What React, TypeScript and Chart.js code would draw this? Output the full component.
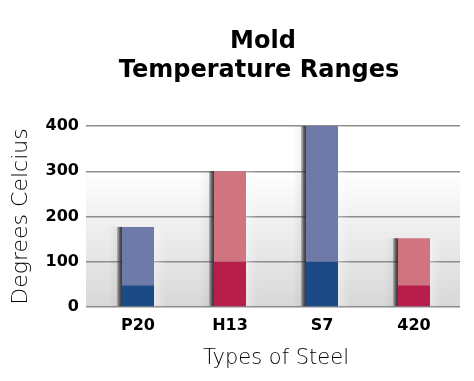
import React, { useEffect, useRef } from "react";
import { Chart, registerables } from "chart.js";

Chart.register(...registerables);

const steelTypes = ["P20", "H13", "S7", "420"];
const lowerRangeTop = [48, 100, 100, 48];
const upperRangeTop = [177, 300, 400, 152];
const lowerColors = ["#1b4a86", "#b81e4c", "#1b4a86", "#b81e4c"];
const upperColors = ["#6f7aa9", "#d0757f", "#6f7aa9", "#d0757f"];
const titleLines = ["Mold", "Temperature Ranges"];
const yAxisTitle = "Degrees Celcius";
const xAxisTitle = "Types of Steel";

const backgroundPlugin = {
  id: "plotBackground",
  beforeDraw(chart: any) {
    const { ctx, chartArea } = chart;
    if (!chartArea) return;
    const { left, right, top, bottom } = chartArea;
    ctx.save();
    const g = ctx.createLinearGradient(0, top, 0, bottom);
    g.addColorStop(0, "#ffffff");
    g.addColorStop(0.25, "#ffffff");
    g.addColorStop(0.5, "#f1f1f1");
    g.addColorStop(0.75, "#e5e5e5");
    g.addColorStop(1, "#d8d8d8");
    ctx.fillStyle = g;
    ctx.fillRect(left - 6, top, right - left + 6, bottom - top);
    ctx.restore();
  },
};

const barShadowPlugin = {
  id: "barShadow",
  beforeDatasetsDraw(chart: any) {
    const { ctx } = chart;
    const lower = chart.getDatasetMeta(0).data;
    const upper = chart.getDatasetMeta(1).data;
    ctx.save();
    upper.forEach((bar: any, i: number) => {
      const base = lower[i].base;
      const topY = bar.y;
      const half = bar.width / 2;
      const l = bar.x - half;
      const r = bar.x + half;
      const soft = ctx.createLinearGradient(l - 14, 0, l, 0);
      soft.addColorStop(0, "rgba(0,0,0,0)");
      soft.addColorStop(1, "rgba(0,0,0,0.08)");
      ctx.fillStyle = soft;
      ctx.fillRect(l - 14, topY, 14, base - topY);
      const dark = ctx.createLinearGradient(l - 5, 0, l, 0);
      dark.addColorStop(0, "rgba(60,60,60,0.25)");
      dark.addColorStop(0.6, "rgba(40,40,40,0.75)");
      dark.addColorStop(1, "rgba(30,30,30,0.85)");
      ctx.fillStyle = dark;
      ctx.fillRect(l - 5, topY, 5, base - topY);
      const lite = ctx.createLinearGradient(r, 0, r + 12, 0);
      lite.addColorStop(0, "rgba(255,255,255,0.35)");
      lite.addColorStop(1, "rgba(255,255,255,0)");
      ctx.fillStyle = lite;
      ctx.fillRect(r, topY, 12, base - topY);
    });
    ctx.restore();
  },
};

const titlePlugin = {
  id: "twoLineTitle",
  afterDraw(chart: any) {
    const { ctx, chartArea } = chart;
    const cx = (chartArea.left + chartArea.right) / 2 - 17;
    ctx.save();
    ctx.fillStyle = "#000";
    ctx.textAlign = "center";
    ctx.textBaseline = "alphabetic";
    ctx.font = "bold 24px 'DejaVu Sans'";
    ctx.fillText(titleLines[0], cx + 4, 48);
    ctx.fillText(titleLines[1], cx, 77);
    ctx.restore();
  },
};

export default function App() {
  const ref = useRef<HTMLCanvasElement>(null);
  useEffect(() => {
    if (!ref.current) return;
    const chart = new Chart(ref.current, {
      type: "bar",
      data: {
        labels: steelTypes,
        datasets: [
          {
            data: lowerRangeTop,
            backgroundColor: lowerColors,
            grouped: false,
            barPercentage: 1,
            categoryPercentage: 0.348,
            borderWidth: 0,
          } as any,
          {
            data: steelTypes.map((_, i) => [lowerRangeTop[i], upperRangeTop[i]]),
            backgroundColor: upperColors,
            grouped: false,
            barPercentage: 1,
            categoryPercentage: 0.348,
            borderWidth: 0,
          } as any,
        ],
      },
      options: {
        responsive: false,
        animation: false,
        layout: { padding: { top: 126, right: 14, left: 0, bottom: 0 } },
        plugins: { legend: { display: false }, tooltip: { enabled: false }, title: { display: false } },
        scales: {
          x: {
            type: "category",
            offset: true,
            grid: { display: false, drawTicks: false },
            border: { display: false },
            ticks: { color: "#000", padding: 9, font: { family: "'DejaVu Sans'", size: 16, weight: "bold" } },
            title: {
              display: true,
              text: xAxisTitle,
              color: "#000",
              font: { family: "'DejaVu Sans'", size: 21, weight: "200" },
              padding: { top: 0, bottom: 10 },
            },
            afterFit(scale: any) {
              scale.height = 74;
            },
          },
          y: {
            min: 0,
            max: 400,
            ticks: { stepSize: 100, color: "#000", padding: 7, font: { family: "'DejaVu Sans'", size: 16, weight: "bold" } },
            grid: { color: "#8c8c8c", lineWidth: 1.5, tickLength: 6, drawTicks: true },
            border: { display: false },
            title: {
              display: true,
              text: yAxisTitle,
              color: "#000",
              font: { family: "'DejaVu Sans'", size: 22, weight: "200" },
              padding: { top: 8, bottom: 0 },
            },
            afterFit(scale: any) {
              scale.width = 92;
            },
          },
        },
      },
      plugins: [backgroundPlugin, barShadowPlugin, titlePlugin],
    });
    return () => chart.destroy();
  }, []);
  return (
    <div style={{ position: "absolute", left: 0, top: 0, width: 474, height: 381, background: "#fff" }}>
      <canvas ref={ref} width={474} height={381} style={{ display: "block" }} />
    </div>
  );
}
